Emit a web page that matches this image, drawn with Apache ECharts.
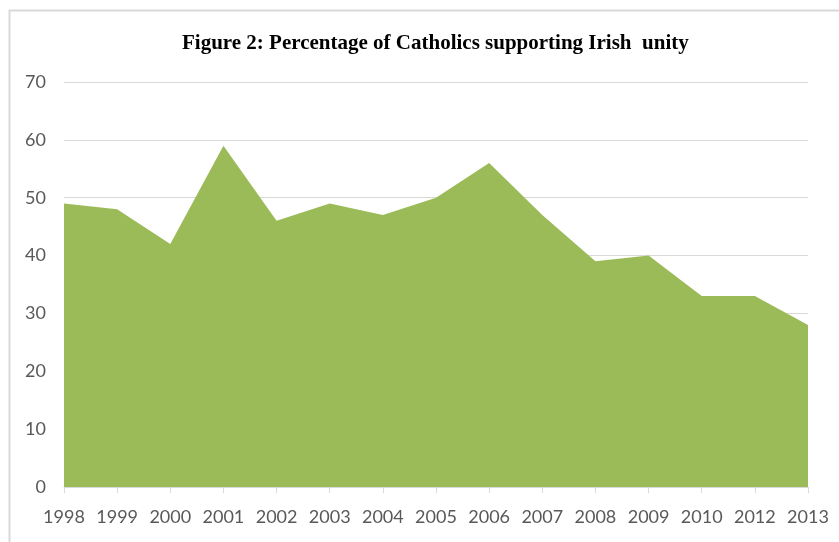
<!DOCTYPE html>
<html>
<head>
<meta charset="utf-8">
<script src="https://cdn.jsdelivr.net/npm/echarts@6/dist/echarts.min.js"></script>
<style>html,body{margin:0;padding:0;background:#fff}#c{width:839px;height:542px}</style>
</head>
<body>
<div id="c"></div>
<script>
const categories = ['1998','1999','2000','2001','2002','2003','2004','2005','2006','2007','2008','2009','2010','2012','2013'];
const values = [49, 48, 42, 59, 46, 49, 47, 50, 56, 47, 39, 40, 33, 33, 28];
const titleText = 'Figure 2: Percentage of Catholics supporting Irish  unity';

const chart = echarts.init(document.getElementById('c'));
chart.setOption({
  animation: false,
  backgroundColor: '#fff',
  graphic: [{
    type: 'rect', left: 7, top: 8, silent: true,
    shape: { x: 0, y: 0, width: 900, height: 600 },
    style: { fill: 'none', stroke: '#D9D9D9', lineWidth: 2 }
  }],
  title: {
    text: titleText, left: 177, top: 28,
    textStyle: { fontFamily: 'Liberation Serif', fontWeight: 'bold', fontSize: 21, color: '#000', whiteSpace: 'pre' }
  },
  grid: { left: 64, right: 31, top: 82, bottom: 55, containLabel: false },
  xAxis: {
    type: 'category', data: categories, boundaryGap: false,
    axisLine: { show: true, lineStyle: { color: '#D9D9D9', width: 1 } },
    axisTick: { show: true, length: 6, lineStyle: { color: '#D9D9D9' }, alignWithLabel: true },
    axisLabel: { color: '#595959', fontFamily: 'Lato', fontSize: 18, margin: 21, interval: 0 },
    splitLine: { show: false }
  },
  yAxis: {
    type: 'value', min: 0, max: 70, interval: 10,
    axisLine: { show: false }, axisTick: { show: false },
    axisLabel: { color: '#595959', fontFamily: 'Lato', fontSize: 18, margin: 18 },
    splitLine: { show: true, lineStyle: { color: '#D9D9D9', width: 1 } }
  },
  series: [{
    type: 'line', data: values, showSymbol: false, symbol: 'none',
    lineStyle: { width: 0 },
    areaStyle: { color: '#9BBB59', opacity: 1 },
    itemStyle: { color: '#9BBB59' }
  }]
});
</script>
</body>
</html>
